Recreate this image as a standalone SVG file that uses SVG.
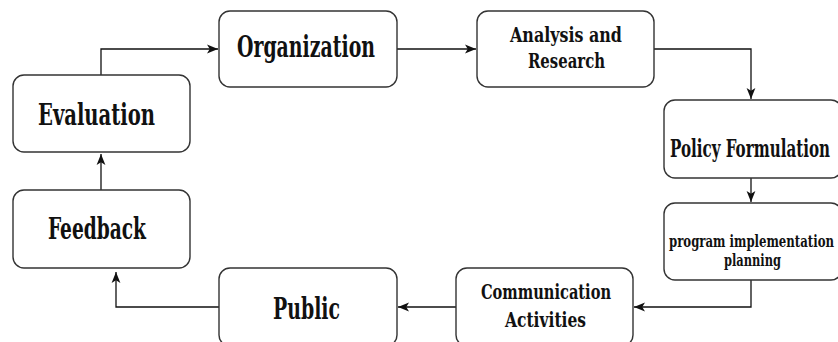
<svg xmlns="http://www.w3.org/2000/svg" width="838" height="342" viewBox="0 0 838 342">
<style>
.box{fill:#fff;stroke:#333;stroke-width:1.4}
.t{font-family:"DejaVu Serif Condensed","DejaVu Serif",serif;font-weight:bold;font-stretch:condensed;fill:#111}
.c{fill:none;stroke:#111;stroke-width:1.3}
</style>
<defs>
<marker id="ah" viewBox="0 0 10 10" refX="10" refY="5" markerWidth="11" markerHeight="11" markerUnits="userSpaceOnUse" orient="auto">
<path d="M0,1 L10,5 L0,9 L2.5,5 Z" fill="#111"/>
</marker>
</defs>
<rect width="838" height="342" fill="#fff"/>
<g id="connectors">
<path class="c" d="M101,75 V49 H218" marker-end="url(#ah)"/>
<path class="c" d="M397,49 H476" marker-end="url(#ah)"/>
<path class="c" d="M654,49 H751 V99" marker-end="url(#ah)"/>
<path class="c" d="M751,178 V202" marker-end="url(#ah)"/>
<path class="c" d="M751,280 V307 H634" marker-end="url(#ah)"/>
<path class="c" d="M456,307 H398" marker-end="url(#ah)"/>
<path class="c" d="M219,307 H116 V272" marker-end="url(#ah)"/>
<path class="c" d="M101,190 V154" marker-end="url(#ah)"/>
</g>
<g id="evaluation">
<rect class="box" x="13" y="75" width="177" height="77" rx="11"/>
<text class="t" x="38" y="125" font-size="29" textLength="117" lengthAdjust="spacingAndGlyphs">Evaluation</text>
</g>
<g id="organization">
<rect class="box" x="219" y="11" width="178" height="76" rx="11"/>
<text class="t" x="237" y="57" font-size="29" textLength="138" lengthAdjust="spacingAndGlyphs">Organization</text>
</g>
<g id="analysis">
<rect class="box" x="477" y="11" width="177" height="76" rx="11"/>
<text class="t" x="510" y="42" font-size="20" textLength="112" lengthAdjust="spacingAndGlyphs">Analysis  and</text>
<text class="t" x="528" y="68" font-size="20" textLength="77" lengthAdjust="spacingAndGlyphs">Research</text>
</g>
<g id="policy">
<rect class="box" x="664" y="100" width="178" height="78" rx="11"/>
<text class="t" x="670" y="157" font-size="24" textLength="160" lengthAdjust="spacingAndGlyphs">Policy  Formulation</text>
</g>
<g id="program">
<rect class="box" x="664" y="203" width="178" height="77" rx="11"/>
<text class="t" x="669" y="247" font-size="16" textLength="165" lengthAdjust="spacingAndGlyphs">program  implementation</text>
<text class="t" x="724" y="266" font-size="16" textLength="57" lengthAdjust="spacingAndGlyphs">planning</text>
</g>
<g id="communication">
<rect class="box" x="456" y="268" width="177" height="78" rx="11"/>
<text class="t" x="481" y="299" font-size="21" textLength="130" lengthAdjust="spacingAndGlyphs">Communication</text>
<text class="t" x="505" y="327" font-size="21" textLength="81" lengthAdjust="spacingAndGlyphs">Activities</text>
</g>
<g id="public">
<rect class="box" x="219" y="268" width="178" height="78" rx="11"/>
<text class="t" x="273" y="319" font-size="29" textLength="67" lengthAdjust="spacingAndGlyphs">Public</text>
</g>
<g id="feedback">
<rect class="box" x="13" y="190" width="177" height="78" rx="11"/>
<text class="t" x="48" y="239" font-size="29" textLength="98" lengthAdjust="spacingAndGlyphs">Feedback</text>
</g>
</svg>
